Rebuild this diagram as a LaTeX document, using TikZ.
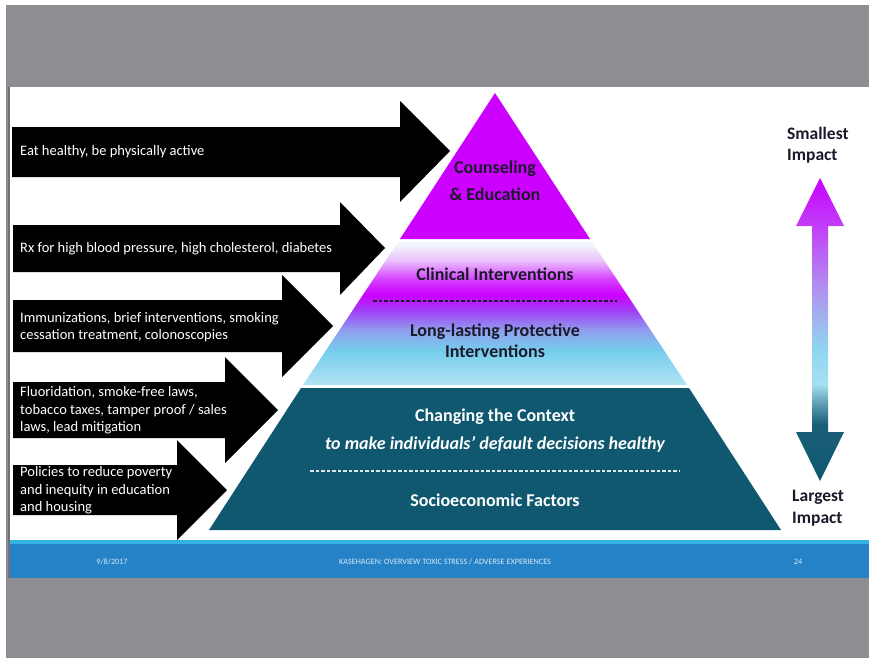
\documentclass[tikz,border=0pt]{standalone}
\usepackage{fontspec}
\setmainfont{Carlito}
\definecolor{bggray}{HTML}{8E8D92}
\definecolor{mag}{HTML}{CC00FF}
\definecolor{teal}{HTML}{0F5870}
\definecolor{bandA}{HTML}{B3E4F4}
\definecolor{bandB}{HTML}{74CDEC}
\definecolor{bandC}{HTML}{8FA0EE}
\definecolor{bandD}{HTML}{A040F5}
\definecolor{bandE}{HTML}{D640FF}
\definecolor{bandF}{HTML}{EAC0FB}
\definecolor{bandG}{HTML}{F2F5FC}
\definecolor{arrA}{HTML}{0F5870}
\definecolor{arrB}{HTML}{1A5F78}
\definecolor{arrC}{HTML}{A6E0F2}
\definecolor{arrD}{HTML}{8FD5EF}
\definecolor{arrE}{HTML}{AAA0EE}
\definecolor{arrF}{HTML}{C050F5}
\definecolor{arrG}{HTML}{C800FF}
\definecolor{darktxt}{HTML}{1C1A2A}
\definecolor{footblue}{HTML}{2682C6}
\definecolor{footline}{HTML}{34B3E6}
\definecolor{foottxt}{HTML}{D8E8F5}
\pgfdeclareverticalshading{midband}{100bp}{color(0bp)=(bandA); color(25bp)=(bandA); color(37bp)=(bandB); color(44bp)=(bandC); color(51bp)=(bandD); color(56.5bp)=(mag); color(62bp)=(bandE); color(68.5bp)=(bandF); color(74bp)=(bandG); color(100bp)=(bandG)}
\pgfdeclareverticalshading{impactarrow}{100bp}{color(0bp)=(arrA); color(25bp)=(arrA); color(34.4bp)=(arrB); color(38.5bp)=(arrC!60!arrB); color(41bp)=(arrC); color(46.7bp)=(arrD); color(54.9bp)=(arrE); color(64.8bp)=(arrF); color(75bp)=(arrG); color(100bp)=(arrG)}
\tikzset{
  blockarrow/.style={fill=black, draw=none},
  armtext/.style={anchor=west, align=left, inner sep=0pt, text=white, font=\fontsize{14.5}{17.5}\selectfont},
  pyrdark/.style={align=center, inner sep=0pt, text=darktxt, font=\fontsize{18}{21}\selectfont\bfseries},
  pyrlight/.style={align=center, inner sep=0pt, text=white, font=\fontsize{18}{21}\selectfont\bfseries},
  impacttext/.style={anchor=north west, align=left, inner sep=0pt, text=darktxt, font=\fontsize{17.5}{21.5}\selectfont\bfseries},
  foottext/.style={inner sep=0pt, text=foottxt, font=\fontsize{8.2}{9}\selectfont},
  sepline/.style={dash pattern=on 3.5pt off 2pt, line width=1.1pt}
}
\begin{document}
\begin{tikzpicture}[x=1pt,y=-1pt]
\useasboundingbox (0,0) rectangle (869,658);
% background
\fill[white] (0,0) rectangle (869,658);
\fill[bggray] (6,5) rectangle (869,658);
\fill[white] (10,87) rectangle (869,541);
\draw[bggray!80!black, line width=1.5pt] (9,87) -- (9,578);
\fill[footline] (10,540) rectangle (869,543.5);
\fill[footblue] (10,543.5) rectangle (869,578);
\node[foottext] (date) at (112,562) {9/8/2017};
\node[foottext] (title) at (445,562) {KASEHAGEN: OVERVIEW TOXIC STRESS / ADVERSE EXPERIENCES};
\node[foottext] (page) at (798,562) {24};
% pyramid
\fill[mag] (495,93) -- (590,239) -- (400,239) -- cycle;
\shade[shading=midband] (398,242) -- (592,242) -- (687,385) -- (303,385) -- cycle;
\fill[teal] (301,388) -- (689,388) -- (781,530) -- (209,530) -- cycle;
\node[pyrdark, font=\fontsize{18}{27}\selectfont\bfseries] (counsel) at (495,181) {Counseling\\\& Education};
\node[pyrdark] (clinical) at (495,274) {Clinical Interventions};
\draw[sepline, darktxt] (373,301) -- (617,301);
\node[pyrdark] (longlast) at (495,341) {Long-lasting Protective\\Interventions};
\node[pyrlight] (context) at (495,417) {Changing the Context};
\node[pyrlight, font=\fontsize{18}{21}\selectfont\bfseries\itshape] (default) at (495,444) {to make individuals’ default decisions healthy};
\draw[sepline, white!85!teal] (310,471) -- (680,471);
\node[pyrlight] (socio) at (495,500) {Socioeconomic Factors};
% block arrows
\fill[blockarrow] (12,127) -- (400,127) -- (400,101) -- (450,151) -- (400,202) -- (400,177) -- (12,177) -- cycle;
\fill[blockarrow] (13,225) -- (340,225) -- (340,202) -- (385,248) -- (340,295) -- (340,272) -- (13,272) -- cycle;
\fill[blockarrow] (13,300) -- (282,300) -- (282,275) -- (333,326) -- (282,377) -- (282,352) -- (13,352) -- cycle;
\fill[blockarrow] (13,382) -- (225,382) -- (225,357) -- (278,410) -- (225,463) -- (225,438) -- (13,438) -- cycle;
\fill[blockarrow] (13,465) -- (177,465) -- (177,440) -- (227,490) -- (177,540) -- (177,515) -- (13,515) -- cycle;
\node[armtext] (t1) at (20,152) {Eat healthy, be physically active};
\node[armtext] (t2) at (20,249) {Rx for high blood pressure, high cholesterol, diabetes};
\node[armtext] (t3) at (20,327) {Immunizations, brief interventions, smoking\\cessation treatment, colonoscopies};
\node[armtext] (t4) at (20,410.5) {Fluoridation, smoke-free laws,\\tobacco taxes, tamper proof / sales\\laws, lead mitigation};
\node[armtext] (t5) at (20,490.5) {Policies to reduce poverty\\and inequity in education\\and housing};
% impact arrow
\shade[shading=impactarrow] (820,178) -- (844,226) -- (828,226) -- (828,432) -- (844,432) -- (820,481) -- (796,432) -- (812,432) -- (812,226) -- (796,226) -- cycle;
\node[impacttext] (small) at (787,127) {Smallest\\Impact};
\node[impacttext] (large) at (792,490) {Largest\\Impact};
\end{tikzpicture}
\end{document}
